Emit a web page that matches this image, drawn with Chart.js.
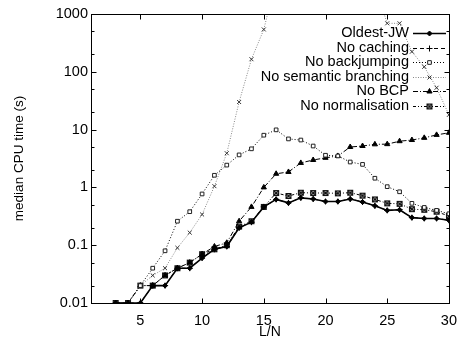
<!DOCTYPE html>
<html>
<head>
<meta charset="utf-8">
<script src="https://cdn.jsdelivr.net/npm/chart.js@4/dist/chart.umd.min.js"></script>
<style>
html,body{margin:0;padding:0;background:#fff;}
#wrap{width:466px;height:338px;}
</style>
</head>
<body>
<div id="wrap"><canvas id="c" width="466" height="338"></canvas></div>
<script>
// L/N values
const LN = [3,4,5,6,7,8,9,10,11,12,13,14,15,16,17,18,19,20,21,22,23,24,25,26,27,28,29,30];
// median CPU time (s) per series
const oldestJW       = [0.01,0.01,0.01,0.02,0.02,0.04,0.04,0.06,0.085,0.095,0.20,0.25,0.46,0.62,0.54,0.66,0.63,0.57,0.57,0.63,0.56,0.48,0.40,0.41,0.30,0.29,0.29,0.27];
const noCaching      = [0.01,0.01,0.01,0.02,0.02,0.04,0.04,0.06,0.085,0.095,0.20,0.25,0.46,0.62,0.54,0.66,0.63,0.57,0.57,0.63,0.56,0.48,0.40,0.41,0.30,0.29,0.29,0.27];
const noBackjumping  = [0.01,0.01,0.02,0.04,0.08,0.26,0.38,0.77,1.62,2.43,3.65,4.65,8.0,9.9,6.9,6.6,5.2,3.6,3.5,2.75,2.5,1.44,1.03,0.84,0.53,0.45,0.40,0.35];
const noSemBranching = [0.01,0.01,0.02,0.03,0.04,0.09,0.165,0.34,1.05,3.9,30,165,540,4000,9000,15000,20000,20000,15000,10000,6000,3000,690,690,223,122,53,18];
const noBCP          = [0.01,0.01,0.02,0.02,0.03,0.04,0.05,0.07,0.095,0.11,0.26,0.46,1.0,1.72,1.85,2.65,2.98,3.25,3.5,5.0,5.2,5.56,5.6,6.3,6.6,7.2,8.1,8.8];
const noNormalise    = [0.01,0.01,0.02,0.02,0.03,0.04,0.05,0.07,0.085,0.10,0.21,0.26,0.46,0.80,0.71,0.81,0.80,0.80,0.79,0.81,0.72,0.62,0.53,0.52,0.42,0.41,0.38,0.32];
const seriesNames = ["Oldest-JW","No caching","No backjumping","No semantic branching","No BCP","No normalisation"];
const yTickValues = [0.01,0.1,1,10,100,1000];
const xTickValues = [5,10,15,20,25,30];
const xTitle = "L/N";
const yTitle = "median CPU time (s)";

const FONT = '"Liberation Sans", Arial, Helvetica, sans-serif';

function boxX(){ // square with x inside
  const c=document.createElement('canvas'); c.width=8;c.height=8;
  const g=c.getContext('2d'); g.strokeStyle='#111'; g.lineWidth=1;
  g.strokeRect(1.5,1.5,5,5);
  g.beginPath(); g.moveTo(1.5,1.5); g.lineTo(6.5,6.5); g.moveTo(6.5,1.5); g.lineTo(1.5,6.5);
  g.moveTo(4,1.5); g.lineTo(4,6.5); g.moveTo(1.5,4); g.lineTo(6.5,4); g.stroke();
  return c;
}
const pts = (arr)=>LN.map((x,i)=>({x:x,y:arr[i]}));

const styles = [
  {data:oldestJW, color:'#000', width:1.6, dash:[], ps:'rectRot', r:2.5, fill:'#000', pc:'#000'},
  {data:noCaching, color:'#000', width:1, dash:[4,3], ps:'cross', r:3, fill:'#000', pc:'#000'},
  {data:noBackjumping, color:'#000', width:1, dash:[1,2], ps:'rect', r:2.6, fill:'#fff', pc:'#222'},
  {data:noSemBranching, color:'#888', width:1, dash:[1,1.5], ps:'crossRot', r:2.8, fill:'#333', pc:'#333'},
  {data:noBCP, color:'#000', width:1, dash:[5,2,1,2], ps:'triangle', r:3, fill:'#000', pc:'#000'},
  {data:noNormalise, color:'#000', width:1, dash:[3,2,1,2,1,2], ps:boxX(), r:3, fill:'#000', pc:'#000'}
];

const datasets = styles.map((s,i)=>({
  label: seriesNames[i],
  data: pts(s.data),
  borderColor: s.color,
  borderWidth: s.width,
  borderDash: s.dash,
  pointStyle: s.ps,
  pointRadius: s.r,
  pointBackgroundColor: s.fill,
  pointBorderColor: s.pc,
  pointBorderWidth: 1,
  pointHoverRadius: s.r,
  tension: 0,
  fill: false
}));

const framePlugin = {
  id:'frame',
  afterDatasetsDraw(chart){
    const ctx=chart.ctx, a=chart.chartArea, xs=chart.scales.x, ys=chart.scales.y;
    ctx.save();
    ctx.strokeStyle='#000'; ctx.lineWidth=1; ctx.setLineDash([]);
    const L=Math.round(a.left)+0.5, R=Math.round(a.right)+0.5, T=Math.round(a.top)+0.5, B=Math.round(a.bottom)+0.5;
    ctx.strokeRect(L,T,R-L,B-T);
    ctx.beginPath();
    xTickValues.forEach(v=>{
      const p=Math.round(xs.getPixelForValue(v))+0.5;
      ctx.moveTo(p,B); ctx.lineTo(p,B-5);
      ctx.moveTo(p,T); ctx.lineTo(p,T+5);
    });
    yTickValues.forEach((v,idx)=>{
      const p=Math.round(ys.getPixelForValue(v))+0.5;
      ctx.moveTo(L,p); ctx.lineTo(L+5,p);
      ctx.moveTo(R,p); ctx.lineTo(R-5,p);
      if(idx<yTickValues.length-1){
        [2,5].forEach(m=>{
          const q=Math.round(ys.getPixelForValue(v*m))+0.5;
          ctx.moveTo(L,q); ctx.lineTo(L+3,q);
          ctx.moveTo(R,q); ctx.lineTo(R-3,q);
        });
      }
    });
    ctx.stroke();
    ctx.restore();
  },
  afterDraw(chart){
    const ctx=chart.ctx, a=chart.chartArea;
    ctx.save();
    ctx.fillStyle='#000';
    ctx.font='14px '+FONT;
    ctx.textAlign='center'; ctx.textBaseline='middle';
    ctx.fillText(xTitle,(a.left+a.right)/2,332);
    ctx.translate(19,(a.top+a.bottom)/2);
    ctx.rotate(-Math.PI/2);
    ctx.font='13.5px '+FONT;
    ctx.fillText(yTitle,0,0);
    ctx.restore();
    ctx.save();
    ctx.font='14.5px '+FONT;
    ctx.textAlign='right'; ctx.textBaseline='middle';
    chart.data.datasets.forEach((ds,i)=>{
      const y=33+i*14.5;
      ctx.fillStyle='#000';
      ctx.fillText(ds.label,409,y);
      ctx.strokeStyle=ds.borderColor; ctx.lineWidth=ds.borderWidth;
      ctx.setLineDash(ds.borderDash);
      ctx.beginPath(); ctx.moveTo(413,Math.round(y)+0.5); ctx.lineTo(446,Math.round(y)+0.5); ctx.stroke();
      ctx.setLineDash([]);
      ctx.lineWidth=1;
      ctx.fillStyle=ds.pointBackgroundColor; ctx.strokeStyle=ds.pointBorderColor;
      Chart.helpers.drawPoint(ctx,{pointStyle:ds.pointStyle,radius:ds.pointRadius,borderWidth:1,rotation:0},429.5,Math.round(y)+0.5);
    });
    ctx.restore();
  }
};

new Chart(document.getElementById('c'),{
  type:'line',
  data:{datasets:datasets},
  options:{
    responsive:false,
    animation:false,
    devicePixelRatio:1,
    layout:{padding:{left:0,right:8,top:14,bottom:0}},
    plugins:{legend:{display:false},tooltip:{enabled:false}},
    scales:{
      x:{
        type:'linear', min:1, max:30,
        grid:{display:false, drawTicks:false, tickLength:0}, border:{display:false},
        afterBuildTicks(s){ s.ticks = xTickValues.map(v=>({value:v})); },
        afterFit(s){ s.height=35; },
        ticks:{color:'#000', font:{family:FONT,size:14.5}, padding:9, maxRotation:0, autoSkip:false}
      },
      y:{
        type:'logarithmic', min:0.01, max:1000,
        grid:{display:false, drawTicks:false, tickLength:0}, border:{display:false},
        afterBuildTicks(s){ s.ticks = yTickValues.map(v=>({value:v})); },
        afterFit(s){ s.width=91; },
        ticks:{color:'#000', font:{family:FONT,size:14.5}, padding:3, autoSkip:false,
          callback:(v)=>String(v)}
      }
    }
  },
  plugins:[framePlugin]
});
</script>
</body>
</html>
